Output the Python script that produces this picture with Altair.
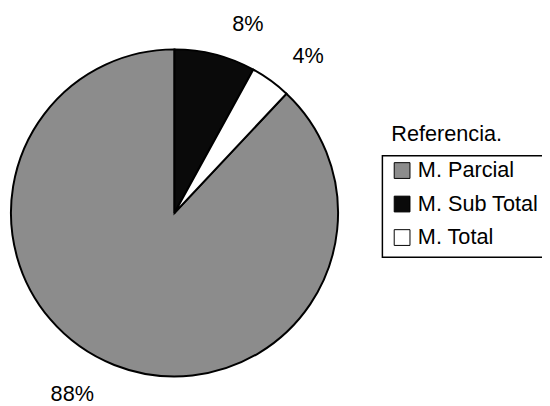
import altair as alt
import pandas as pd

categorias = ["M. Parcial", "M. Sub Total", "M. Total"]
valores = [88, 8, 4]
etiquetas = ["88%", "8%", "4%"]
orden_pie = [3, 1, 2]
colores = ["#8c8c8c", "#0a0a0a", "#ffffff"]

df = pd.DataFrame({"categoria": categorias, "valor": valores,
                   "etiqueta": etiquetas, "orden": orden_pie})

CX, CY, R = 169, 205, 166
FONT = "Liberation Sans"

theta_scale = alt.Scale(domain=[0, 100], range=[0, 6.283185307179586])

base = alt.Chart(df).transform_stack(
    stack="valor", as_=["t0", "t1"], groupby=[],
    sort=[alt.SortField("orden", order="ascending")]
).transform_calculate(tm="(datum.t0 + datum.t1) / 2")

color = alt.Color(
    "categoria:N",
    scale=alt.Scale(domain=categorias, range=colores),
    legend=alt.Legend(
        title="Referencia.", orient="none", legendX=389, legendY=115,
        titleFont=FONT, titleFontSize=22, titleFontWeight="normal", titleColor="black",
        labelFont=FONT, labelFontSize=22, labelColor="black", labelLimit=400,
        symbolType="square", symbolSize=256, symbolStrokeColor="black",
        symbolStrokeWidth=1, rowPadding=12, titlePadding=14, labelOffset=5, padding=0,
    ),
)

arc = base.mark_arc(radius=R, stroke="black", strokeWidth=2).encode(
    theta=alt.Theta("t0:Q", scale=theta_scale),
    theta2="t1:Q",
    color=color,
    x=alt.value(CX), y=alt.value(CY),
)

offsets = {"M. Sub Total": (26, -3), "M. Total": (21, -1), "M. Parcial": (-32, 3)}
texts = []
for cat in categorias:
    dx, dy = offsets[cat]
    texts.append(
        base.transform_filter(alt.datum.categoria == cat).mark_text(
            radius=195, dx=dx, dy=dy, font=FONT, fontSize=22, color="black"
        ).encode(
            theta=alt.Theta("tm:Q", scale=theta_scale),
            text="etiqueta:N",
            x=alt.value(CX), y=alt.value(CY),
        )
    )

box = alt.Chart(pd.DataFrame({"a": [0]})).mark_rect(
    fillOpacity=0, stroke="black", strokeWidth=1.5
).encode(x=alt.value(380), x2=alt.value(560), y=alt.value(147), y2=alt.value(250))

chart = alt.layer(arc, *texts, box).properties(
    width=542, height=398, padding=0,
    autosize=alt.AutoSizeParams(type="none"),
    background="white",
).configure_view(strokeWidth=0)

chart.save("out.html", embed_options={"renderer": "svg", "actions": False})
